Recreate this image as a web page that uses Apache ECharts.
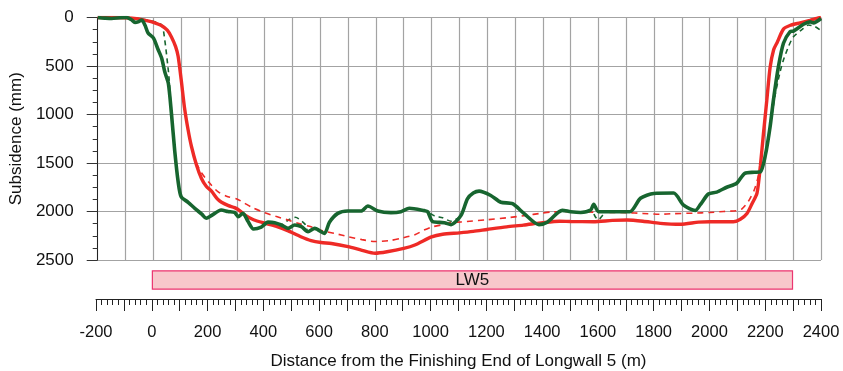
<!DOCTYPE html>
<html>
<head>
<meta charset="utf-8">
<script src="https://cdn.jsdelivr.net/npm/echarts@6/dist/echarts.min.js"></script>
<style>
  html, body { margin: 0; padding: 0; background: #fff; }
  #chart { width: 843px; height: 371px; }
</style>
</head>
<body>
<div id="chart"></div>
<script>
// Distance (m) from the finishing end of LW5, subsidence (mm)
const predictedSolid = [
  [-200,0],[-150,0],[-100,3],[-60,12],[-20,35],[0,50],[30,85],[50,130],[65,200],[80,300],
  [89,400],[100,640],[112,930],[125,1160],[137,1330],[155,1520],[173,1660],[190,1740],[209,1790],
  [230,1870],[245,1905],[270,1940],[292,1960],[310,1990],[328,2035],[360,2085],[400,2120],
  [440,2150],[485,2200],[530,2260],[567,2300],[603,2320],[640,2330],[700,2362],[750,2400],
  [797,2430],[840,2415],[900,2380],[940,2345],[1000,2262],[1040,2235],[1100,2220],[1150,2205],
  [1200,2185],[1270,2158],[1330,2140],[1400,2115],[1460,2100],[1500,2103],[1582,2105],
  [1650,2092],[1703,2088],[1760,2100],[1822,2122],[1894,2132],[1960,2110],[2000,2105],
  [2085,2105],[2110,2080],[2134,2020],[2152,1920],[2170,1810],[2182,1530],[2193,1200],
  [2205,860],[2217,515],[2230,330],[2242,260],[2265,120],[2290,80],[2325,55],[2360,30],
  [2385,10],[2400,0]
];
const predictedDashed = [
  [-200,0],[-150,0],[-100,3],[-60,12],[-20,35],[0,50],[30,85],[50,130],[65,200],[80,300],
  [89,400],[100,640],[112,930],[125,1160],[137,1330],[155,1500],[173,1600],[200,1700],
  [232,1796],[268,1847],[300,1870],[328,1915],[360,1965],[400,2012],[440,2050],[484,2088],
  [530,2130],[567,2157],[610,2200],[651,2225],[700,2260],[750,2290],[797,2310],[850,2300],
  [890,2276],[940,2240],[973,2191],[1000,2160],[1034,2139],[1070,2115],[1106,2108],
  [1200,2085],[1273,2064],[1340,2040],[1392,2019],[1430,2005],[1500,2002],[1560,2005],
  [1650,2010],[1700,2012],[1760,2020],[1822,2029],[1869,2022],[1941,2017],[2000,2010],
  [2050,2000],[2097,1991],[2115,1975],[2138,1900],[2160,1778],[2170,1690],[2182,1530],
  [2193,1200],[2205,860],[2217,515],[2230,330],[2242,260],[2265,120],[2290,80],[2325,55],
  [2360,30],[2385,10],[2400,0]
];
const measuredSolid = [
  [-200,0],[-175,6],[-150,10],[-120,3],[-96,0],[-80,20],[-66,50],[-55,45],[-42,26],[-30,80],
  [-19,160],[0,210],[17,330],[30,420],[41,560],[54,680],[65,990],[77,1380],[89,1690],
  [100,1848],[125,1905],[150,1970],[175,2030],[190,2070],[210,2040],[244,1985],[268,2000],
  [292,2010],[305,2053],[322,2019],[340,2100],[360,2180],[388,2160],[412,2110],[436,2115],
  [460,2139],[484,2174],[508,2139],[532,2157],[556,2208],[580,2174],[615,2225],[633,2110],
  [663,2019],[699,1995],[747,1995],[771,1943],[807,1995],[854,2012],[890,2002],[920,1967],
  [974,1991],[986,2002],[1004,2105],[1046,2115],[1070,2135],[1106,2040],[1129,1870],
  [1150,1810],[1171,1790],[1213,1835],[1249,1905],[1291,1920],[1332,2019],[1386,2135],
  [1416,2110],[1470,1988],[1500,2002],[1536,2010],[1572,1985],[1583,1925],[1600,2002],
  [1630,2002],[1713,2002],[1751,1864],[1799,1815],[1870,1810],[1906,1935],[1948,1990],
  [1966,1930],[1995,1820],[2025,1800],[2061,1750],[2097,1709],[2126,1606],[2160,1596],
  [2182,1592],[2200,1420],[2217,1126],[2229,850],[2247,507],[2265,266],[2289,146],
  [2301,140],[2337,70],[2361,45],[2373,55],[2400,10]
];
const measuredDashed = [
  [-200,0],[-100,0],[-40,15],[0,40],[30,77],[41,232],[51,473],[56,610],[65,990],[77,1380],
  [89,1690],[100,1848],[125,1905],[150,1970],[175,2030],[190,2070],[210,2040],[244,1985],
  [268,2000],[292,2010],[305,2053],[322,2019],[340,2100],[360,2180],[388,2160],[412,2110],
  [436,2115],[460,2139],[484,2090],[510,2060],[545,2130],[556,2208],[580,2174],[615,2225],
  [633,2110],[663,2019],[699,1995],[747,1995],[771,1943],[807,1995],[854,2012],[890,2002],
  [920,1967],[974,1991],[990,2010],[1010,2045],[1040,2065],[1070,2100],[1100,2060],
  [1106,2040],[1129,1870],[1150,1810],[1171,1790],[1213,1835],[1249,1905],[1291,1920],
  [1332,2019],[1386,2135],[1416,2110],[1470,1988],[1500,2002],[1536,2010],[1575,1995],
  [1590,2060],[1600,2085],[1615,2040],[1630,2005],[1713,2002],[1751,1864],[1799,1815],
  [1870,1810],[1906,1935],[1948,1990],[1966,1930],[1995,1820],[2025,1800],[2061,1750],
  [2097,1709],[2126,1606],[2160,1596],[2182,1592],[2200,1420],[2217,1126],[2235,800],
  [2253,560],[2265,438],[2283,301],[2301,198],[2337,112],[2355,77],[2379,95],[2400,135]
];
// Longwall panel extent (m)
const panelNames = ['LW5'];
const panelEnd = [2300];

const FONT = 'Liberation Sans, Arial, sans-serif';
const RED = '#ee2a26';
const GREEN = '#17652f';

const chart = echarts.init(document.getElementById('chart'), null, { renderer: 'canvas' });
chart.setOption({
  animation: false,
  backgroundColor: '#fff',
  textStyle: { fontFamily: FONT },
  grid: [
    { left: 96, right: 22, top: 17.5, height: 242.5 },
    { left: 96, right: 22, top: 261, height: 39 }
  ],
  xAxis: [
    {
      gridIndex: 0, type: 'value', min: -200, max: 2400, interval: 100,
      axisLine: { show: false }, axisTick: { show: false }, axisLabel: { show: false },
      splitLine: { show: true, lineStyle: { color: '#a3a3a3', width: 1.2 } }
    },
    {
      gridIndex: 1, type: 'value', min: -200, max: 2400, interval: 100, position: 'bottom',
      name: 'Distance from the Finishing End of Longwall 5 (m)',
      nameLocation: 'middle', nameGap: 54,
      nameTextStyle: { fontSize: 17, color: '#111', fontFamily: FONT },
      axisLine: { show: true, onZero: false, lineStyle: { color: '#222', width: 1 } },
      axisTick: { show: true, length: 12, lineStyle: { color: '#222' } },
      minorTick: { show: true, splitNumber: 5, length: 6, lineStyle: { color: '#222' } },
      axisLabel: {
        margin: 25, fontSize: 16.5, color: '#111', fontFamily: FONT,
        formatter: v => (v % 200 === 0 ? String(v) : '')
      },
      splitLine: { show: false }
    }
  ],
  yAxis: [
    {
      gridIndex: 0, type: 'value', inverse: true, min: 0, max: 2500, interval: 500,
      name: 'Subsidence (mm)', nameLocation: 'middle', nameGap: 59,
      nameTextStyle: { fontSize: 17, color: '#111', fontFamily: FONT },
      axisLine: { show: true, onZero: false, lineStyle: { color: '#222', width: 1 } },
      axisTick: { show: true, length: 11, lineStyle: { color: '#333' } },
      minorTick: { show: true, splitNumber: 4, length: 5, lineStyle: { color: '#333' } },
      axisLabel: {
        margin: 24, fontSize: 17, color: '#111', fontFamily: FONT,
        formatter: v => String(v)
      },
      splitLine: { show: true, lineStyle: { color: '#a3a3a3', width: 1.2 } }
    },
    {
      gridIndex: 1, type: 'category', data: panelNames, show: false
    }
  ],
  series: [
    {
      name: 'Measured (alt)', type: 'line', xAxisIndex: 0, yAxisIndex: 0, z: 2,
      data: measuredDashed, showSymbol: false, smooth: 0.25,
      lineStyle: { color: GREEN, width: 1.6, type: [5, 4] }
    },
    {
      name: 'Predicted (alt)', type: 'line', xAxisIndex: 0, yAxisIndex: 0, z: 3,
      data: predictedDashed, showSymbol: false, smooth: 0.25,
      lineStyle: { color: RED, width: 1.6, type: [6, 5] }
    },
    {
      name: 'Predicted', type: 'line', xAxisIndex: 0, yAxisIndex: 0, z: 4,
      data: predictedSolid, showSymbol: false, smooth: 0.25,
      lineStyle: { color: RED, width: 3.4 }
    },
    {
      name: 'Measured', type: 'line', xAxisIndex: 0, yAxisIndex: 0, z: 5,
      data: measuredSolid, showSymbol: false, smooth: 0.25,
      lineStyle: { color: GREEN, width: 3.6 }
    },
    {
      name: 'Panel', type: 'bar', xAxisIndex: 1, yAxisIndex: 1,
      data: panelEnd, barWidth: 19.5,
      itemStyle: { color: '#f8c7cb', borderColor: '#eb3570', borderWidth: 1.2 },
      label: {
        show: true, position: 'inside', formatter: '{b}',
        fontSize: 17, color: '#111', fontFamily: FONT
      }
    }
  ]
});
</script>
</body>
</html>
